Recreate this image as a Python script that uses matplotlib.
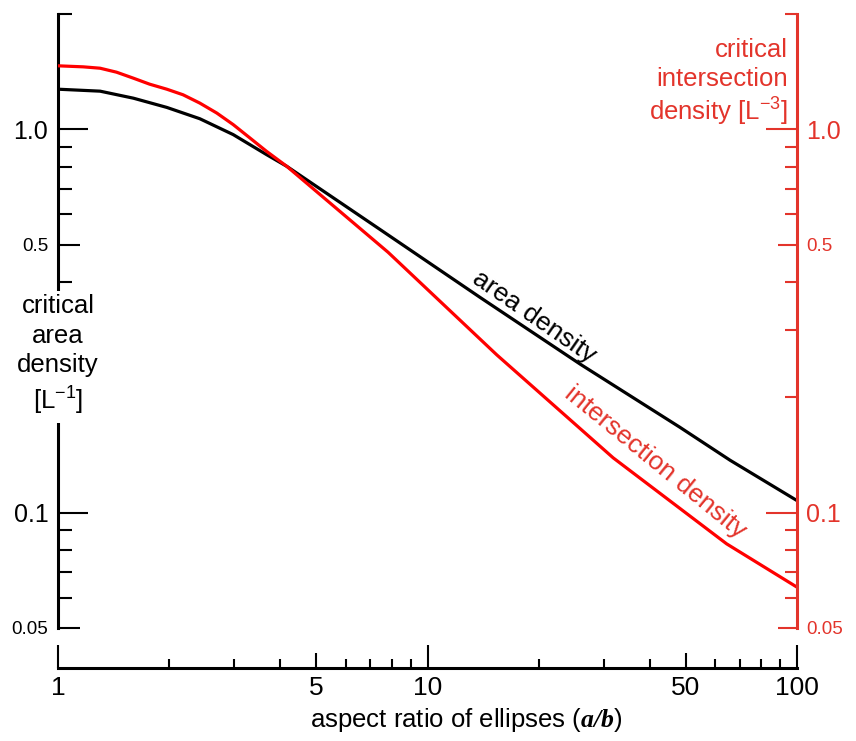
import matplotlib
matplotlib.use('Agg')
import matplotlib.pyplot as plt
from matplotlib.ticker import FixedLocator, NullFormatter

plt.rcParams['font.family'] = 'Liberation Sans'
plt.rcParams['mathtext.fontset'] = 'custom'
plt.rcParams['mathtext.rm'] = 'Liberation Sans'
plt.rcParams['mathtext.it'] = 'Liberation Sans:italic'
plt.rcParams['mathtext.bf'] = 'Liberation Serif:italic:bold'

# data
aspect_area = [1.0, 1.3, 1.6, 1.97, 2.42, 2.98, 3.67, 4.16, 7.44, 13.9, 25.9, 48.2, 65.9, 100.0]
area_density = [1.273, 1.258, 1.206, 1.141, 1.066, 0.969, 0.859, 0.801, 0.548, 0.364, 0.244,
                0.167, 0.137, 0.1075]

aspect_inter = [1.0, 1.17, 1.3, 1.44, 1.6, 1.77, 1.97, 2.18, 2.42, 2.69, 2.98, 3.31, 3.67,
                4.16, 7.82, 15.4, 31.8, 64.5, 100.0]
inter_density = [1.465, 1.456, 1.444, 1.410, 1.360, 1.312, 1.273, 1.231, 1.171, 1.103, 1.029,
                 0.949, 0.876, 0.801, 0.478, 0.258, 0.139, 0.0829, 0.0639]

x_major = [1, 10, 100]
x_mid = [5, 50]
x_minor = [2, 3, 4, 6, 7, 8, 9, 20, 30, 40, 60, 70, 80, 90]
y_major = [0.05, 0.1, 0.5, 1.0]
y_labels = ['0.05', '0.1', '0.5', '1.0']
y_minor = [0.06, 0.07, 0.08, 0.09, 0.2, 0.3, 0.4, 0.6, 0.7, 0.8, 0.9, 2.0]

red_axis = '#e3342b'
red_line = '#ff0000'

fig = plt.figure(figsize=(8.56, 7.41), dpi=100)
ax = fig.add_axes([58 / 856, 1 - 628 / 741, 739 / 856, 614 / 741])
ax.set_xscale('log')
ax.set_yscale('log')
ax.set_xlim(1, 100)
ax.set_ylim(0.05, 2.0)

ax2 = ax.twinx()
ax2.set_yscale('log')
ax2.set_ylim(0.05, 2.0)

# spines
for s in ['top', 'right']:
    ax.spines[s].set_visible(False)
for s in ['top', 'left', 'bottom']:
    ax2.spines[s].set_visible(False)
ax.spines['bottom'].set_position(('outward', 28.8))
ax.spines['left'].set_linewidth(2.2)
ax.spines['bottom'].set_linewidth(2.2)
ax2.spines['right'].set_linewidth(2.2)
ax2.spines['right'].set_color(red_axis)

# x ticks
ax.xaxis.set_major_locator(FixedLocator(x_major + x_mid))
ax.set_xticklabels([str(v) for v in x_major + x_mid])
ax.xaxis.set_minor_locator(FixedLocator(x_minor))
ax.xaxis.set_minor_formatter(NullFormatter())
ax.tick_params(axis='x', which='both', direction='in', width=1.5, pad=6, labelsize=19)
ax.tick_params(axis='x', which='minor', length=6.5)
for t, v in zip(ax.xaxis.get_major_ticks(), x_major + x_mid):
    t.tick1line.set_markersize(16.5 if v in x_major else 10.8)

# left y ticks
ax.yaxis.set_major_locator(FixedLocator(y_major))
ax.set_yticklabels(y_labels)
ax.yaxis.set_minor_locator(FixedLocator(y_minor))
ax.yaxis.set_minor_formatter(NullFormatter())
ax.tick_params(axis='y', which='both', direction='in', width=1.5, pad=7)
ax.tick_params(axis='y', which='minor', length=10)
for t, v in zip(ax.yaxis.get_major_ticks(), y_major):
    big = v in (0.1, 1.0)
    t.tick1line.set_markersize(21.6 if big else 15.8)
    t.label1.set_fontsize(18 if big else 13.5)

# right y ticks
ax2.yaxis.set_major_locator(FixedLocator(y_major))
ax2.set_yticklabels(y_labels)
ax2.yaxis.set_minor_locator(FixedLocator(y_minor))
ax2.yaxis.set_minor_formatter(NullFormatter())
ax2.tick_params(axis='y', which='both', direction='in', width=1.5, pad=6.5,
                color=red_axis, labelcolor=red_axis)
ax2.tick_params(axis='y', which='minor', length=8.6)
for t, v in zip(ax2.yaxis.get_major_ticks(), y_major):
    big = v in (0.1, 1.0)
    t.tick2line.set_markersize(22 if big else 13.7)
    t.label2.set_fontsize(18 if big else 13.5)

# curves
ax.plot(aspect_area, area_density, color='black', lw=2.3)
ax2.plot(aspect_inter, inter_density, color=red_line, lw=2.3)

# curve labels
ax.text(19.4, 0.324, 'area density', rotation=-34.6, rotation_mode='anchor',
        ha='center', va='center', fontsize=19, color='black')
ax2.text(41.3, 0.135, 'intersection density', rotation=-39.2, rotation_mode='anchor',
         ha='center', va='center', fontsize=19, color=red_axis)

# axis labels
ax.text(0, 0.257, 'critical\narea\ndensity\n[L$^{-1}$]', transform=ax.get_yaxis_transform(),
        ha='center', va='center', multialignment='center', fontsize=18.5,
        linespacing=1.3, clip_on=False, zorder=10,
        bbox=dict(facecolor='white', edgecolor='none', pad=4))
ax2.text(0.988, 0.887, 'critical\nintersection\ndensity [L$^{-3}$]', transform=ax2.transAxes,
         ha='right', va='center', multialignment='right', fontsize=18.5,
         linespacing=1.22, color=red_axis)
fig.text(466 / 856, 1 - 720 / 741, r'aspect ratio of ellipses ($\mathbf{a/b}$)',
         ha='center', va='center', fontsize=18.5)

fig.savefig('out.png', dpi=100)
